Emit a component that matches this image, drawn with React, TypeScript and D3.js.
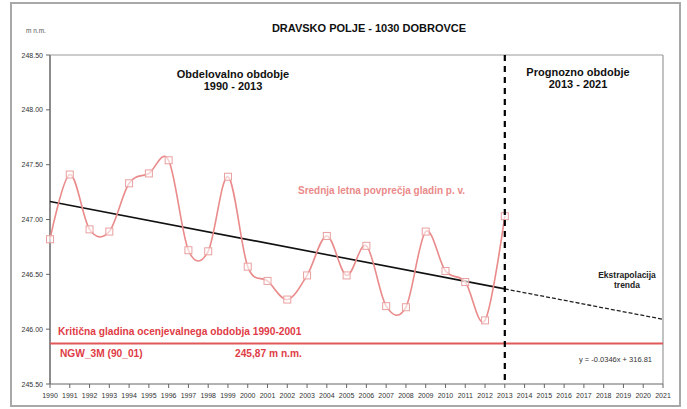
import React from "react";
import * as d3 from "d3";

const years = [1990,1991,1992,1993,1994,1995,1996,1997,1998,1999,2000,2001,2002,2003,2004,2005,2006,2007,2008,2009,2010,2011,2012,2013];
const levels = [246.82,247.41,246.91,246.89,247.33,247.42,247.54,246.72,246.71,247.39,246.57,246.44,246.27,246.49,246.85,246.49,246.76,246.21,246.20,246.89,246.53,246.43,246.08,247.03];
const xTicks = d3.range(1990, 2022);
const yTicks = [245.5, 246.0, 246.5, 247.0, 247.5, 248.0, 248.5];
const criticalLevel = 245.87;
const splitYear = 2013;
const endYear = 2021;

const W = 687, H = 409;
const M = { left: 50, top: 55, right: 663, bottom: 384 };

export default function App() {
  const x = d3.scaleLinear().domain([1990, 2021]).range([M.left, M.right]);
  const y = d3.scaleLinear().domain([245.5, 248.5]).range([M.bottom, M.top]);

  // least squares trend
  const mx = d3.mean(years)!;
  const my = d3.mean(levels)!;
  let sxy = 0, sxx = 0;
  years.forEach((yr, i) => { sxy += (yr - mx) * (levels[i] - my); sxx += (yr - mx) ** 2; });
  const slope = sxy / sxx;
  const trend = (yr: number) => my + slope * (yr - mx);

  const pts: [number, number][] = years.map((yr, i) => [x(yr), y(levels[i])]);
  const smooth = d3.line().curve(d3.curveCardinal.tension(0))(pts) || "";

  const font = "Arial, 'Liberation Sans', sans-serif";
  const salmon = "#ea8a8a";
  const red = "#df3c46";

  return (
    <svg width={W} height={H} style={{ position: "absolute", left: 0, top: 0 }} fontFamily={font}>
      <rect x={0} y={0} width={W} height={H} fill="#fff" />
      <rect x={11} y={3} width={669} height={403} fill="none" stroke="#a8a8a8" strokeWidth={2} />
      <text x={369} y={32} textAnchor="middle" fontSize={11} fontWeight="bold" fill="#111">DRAVSKO POLJE - 1030 DOBROVCE</text>
      <text x={26} y={33} fontSize={6.5} fill="#555">m n.m.</text>

      {/* plot border */}
      <line x1={M.left} y1={M.top} x2={M.right} y2={M.top} stroke="#999" strokeWidth={1.2} />
      <line x1={M.right} y1={M.top} x2={M.right} y2={M.bottom} stroke="#999" strokeWidth={1.2} />
      <line x1={M.left} y1={M.top} x2={M.left} y2={M.bottom} stroke="#8c8c8c" strokeWidth={2} />
      <line x1={M.left} y1={M.bottom} x2={M.right} y2={M.bottom} stroke="#666" strokeWidth={1} />

      {yTicks.map(t => (
        <g key={t}>
          <line x1={M.left - 4} x2={M.left} y1={y(t)} y2={y(t)} stroke="#666" />
          <text x={M.left - 7} y={y(t) + 2.5} textAnchor="end" fontSize={7} fill="#333">{t.toFixed(2)}</text>
        </g>
      ))}
      {xTicks.map(t => (
        <g key={t}>
          <line x1={x(t)} x2={x(t)} y1={M.bottom} y2={M.bottom + 4} stroke="#666" />
          <text x={x(t)} y={M.bottom + 14} textAnchor="middle" fontSize={7} fill="#333">{t}</text>
        </g>
      ))}

      {/* critical level */}
      <line x1={M.left} x2={M.right} y1={y(criticalLevel)} y2={y(criticalLevel)} stroke="#e05858" strokeWidth={2} />
      <text x={58} y={335} fontSize={10.2} fontWeight="bold" fill={red}>Kritična gladina  ocenjevalnega  obdobja  1990-2001</text>
      <text x={60} y={357} fontSize={10.2} fontWeight="bold" fill={red}>NGW_3M (90_01)</text>
      <text x={235} y={357} fontSize={10.2} fontWeight="bold" fill={red}>245,87 m n.m.</text>

      {/* trend */}
      <line x1={x(1990)} y1={y(trend(1990))} x2={x(splitYear)} y2={y(trend(splitYear))} stroke="#111" strokeWidth={1.6} />
      <line x1={x(splitYear)} y1={y(trend(splitYear))} x2={x(endYear)} y2={y(trend(endYear))} stroke="#222" strokeWidth={1.3} strokeDasharray="4,2" />

      {/* series */}
      <path d={smooth} fill="none" stroke={salmon} strokeWidth={1.6} />
      {pts.map((p, i) => (
        <rect key={i} x={p[0] - 3.5} y={p[1] - 3.5} width={7} height={7} fill="#fff" fillOpacity={0.6} stroke="#eaa0a0" strokeWidth={1} />
      ))}

      {/* split line */}
      <line x1={x(splitYear)} x2={x(splitYear)} y1={M.top} y2={M.bottom} stroke="#000" strokeWidth={2.2} strokeDasharray="6,5" />

      <text x={233} y={78} textAnchor="middle" fontSize={11} fontWeight="bold" fill="#111">Obdelovalno obdobje</text>
      <text x={233} y={90} textAnchor="middle" fontSize={11} fontWeight="bold" fill="#111">1990 - 2013</text>
      <text x={578} y={76} textAnchor="middle" fontSize={11} fontWeight="bold" fill="#111">Prognozno obdobje</text>
      <text x={578} y={88} textAnchor="middle" fontSize={11} fontWeight="bold" fill="#111">2013 - 2021</text>
      <text x={298} y={194} fontSize={10} fontWeight="bold" fill={salmon}>Srednja letna povprečja gladin p. v.</text>
      <text x={627} y={278} textAnchor="middle" fontSize={8.5} fontWeight="bold" fill="#222">Ekstrapolacija</text>
      <text x={627} y={288} textAnchor="middle" fontSize={8.5} fontWeight="bold" fill="#222">trenda</text>
      <text x={652} y={362} textAnchor="end" fontSize={7.5} fill="#333">y = -0.0346x + 316.81</text>
    </svg>
  );
}
